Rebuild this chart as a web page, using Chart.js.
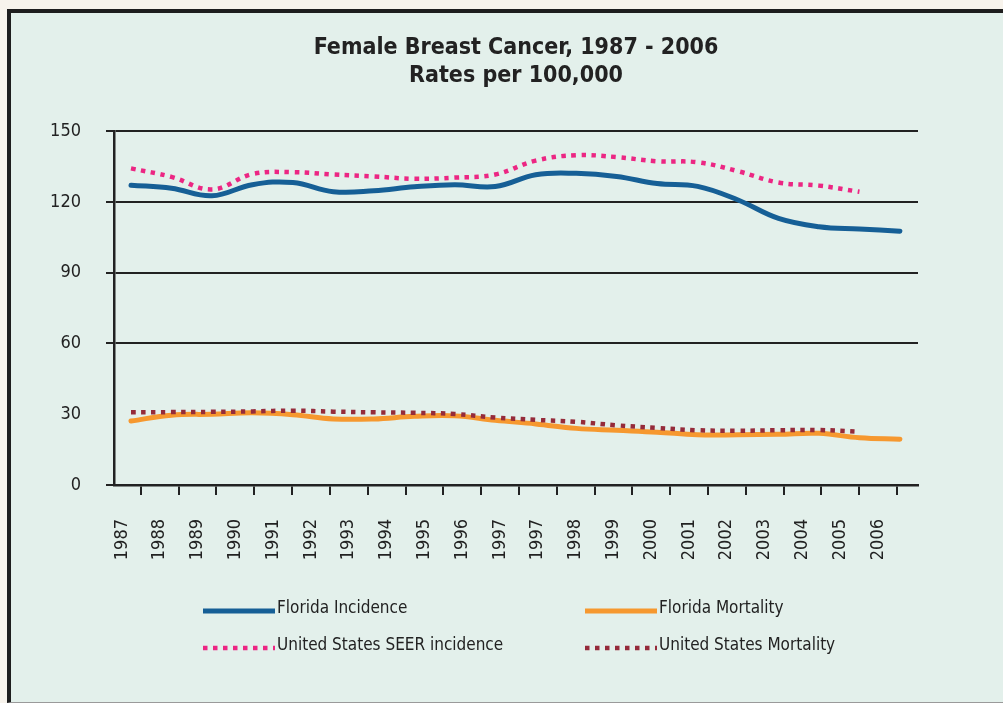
<!DOCTYPE html>
<html>
<head>
<meta charset="utf-8">
<title>Female Breast Cancer, 1987 - 2006</title>
<script src="https://cdn.jsdelivr.net/npm/chart.js@4.4.1/dist/chart.umd.min.js"></script>
<style>
  html, body { margin: 0; padding: 0; background: #f7f3ec; overflow: hidden; }
  .frame {
    position: absolute; left: 7px; top: 9px; right: 0; bottom: 0;
    background: #e3f0eb;
    border-left: 4px solid #1e1e1e;
    border-top: 4px solid #1e1e1e;
    border-bottom: 1px solid #9a9a9a;
  }
  canvas { position: absolute; left: 0; top: 0; }
</style>
</head>
<body>
<div class="frame"></div>
<canvas id="chart" width="1003" height="703"></canvas>
<script>
// data (rates per 100,000)
const years = [1987, 1988, 1989, 1990, 1991, 1992, 1993, 1994, 1995, 1996,
               1997, 1998, 1999, 2000, 2001, 2002, 2003, 2004, 2005, 2006];
const xLabels = ['1987', '1988', '1989', '1990', '1991', '1992', '1993', '1994', '1995', '1996', '1997',
                 '1997', '1998', '1999', '2000', '2001', '2002', '2003', '2004', '2005', '2006'];
const yTicks = [0, 30, 60, 90, 120, 150];

const floridaIncidence = [127.1, 125.8, 122.6, 127.3, 128.2, 124.3, 124.7, 126.4, 127.3, 126.5,
                          131.5, 132.1, 130.8, 127.8, 126.6, 120.8, 113.0, 109.5, 108.5, 107.6];
const floridaMortality = [27.1, 29.6, 30.0, 30.6, 29.8, 28.0, 28.0, 29.1, 29.3, 27.4,
                          25.9, 24.0, 23.2, 22.4, 21.3, 21.3, 21.5, 21.9, 20.0, 19.4];
const seerIncidence = [134.2, 130.6, 125.3, 131.8, 132.6, 131.6, 130.8, 129.8, 130.3, 131.6,
                       137.5, 139.8, 139.0, 137.2, 136.8, 133.0, 128.2, 126.9, 124.3];
const usMortality = [30.8, 30.9, 31.0, 31.2, 31.5, 31.1, 30.8, 30.6, 30.1, 28.6,
                     27.6, 26.8, 25.3, 24.2, 23.2, 23.0, 23.2, 23.3, 22.6];

const FONT = '"Liberation Sans Narrow", "DejaVu Sans Condensed", "Liberation Sans", sans-serif';
Chart.defaults.font.family = FONT;
Chart.defaults.color = '#222';

const pts = (vals) => vals.map((v, i) => ({ x: years[i], y: v }));

// two-column legend under the plot, drawn from the datasets
const legendCols = [203, 585];
const legendRows = [611, 648];
const gridLegend = {
  id: 'gridLegend',
  afterDraw(chart) {
    const ctx = chart.ctx;
    chart.data.datasets.forEach((ds, i) => {
      const x = legendCols[i % 2];
      const y = legendRows[Math.floor(i / 2)];
      ctx.save();
      ctx.strokeStyle = ds.borderColor;
      ctx.lineWidth = ds.borderWidth;
      ctx.lineCap = 'butt';
      ctx.setLineDash(ds.borderDash || []);
      ctx.beginPath();
      ctx.moveTo(x, y);
      ctx.lineTo(x + 72, y);
      ctx.stroke();
      ctx.setLineDash([]);
      ctx.fillStyle = '#222';
      ctx.font = '17px ' + FONT;
      ctx.textBaseline = 'middle';
      ctx.fillText(ds.label, x + 74, y - 2);
      ctx.restore();
    });
  }
};

new Chart(document.getElementById('chart'), {
  type: 'line',
  data: {
    datasets: [
      {
        label: 'Florida Incidence',
        data: pts(floridaIncidence),
        borderColor: '#165f96',
        borderWidth: 5,
        order: 1
      },
      {
        label: 'Florida Mortality',
        data: pts(floridaMortality),
        borderColor: '#f6982f',
        borderWidth: 5,
        order: 1
      },
      {
        label: 'United States SEER incidence',
        data: pts(seerIncidence),
        borderColor: '#ec2683',
        borderWidth: 4.5,
        borderDash: [4.5, 5.5],
        borderCapStyle: 'butt',
        order: 1
      },
      {
        label: 'United States Mortality',
        data: pts(usMortality),
        borderColor: '#952b3a',
        borderWidth: 4.5,
        borderDash: [4.5, 5.5],
        borderCapStyle: 'butt',
        order: 0
      }
    ]
  },
  options: {
    responsive: false,
    animation: false,
    elements: {
      point: { radius: 0 },
      line: { tension: 0.4, borderCapStyle: 'round', fill: false }
    },
    datasets: { line: { xAxisID: 'yr' } },
    layout: { padding: { left: 0, right: 85, top: 0, bottom: 118 } },
    plugins: {
      legend: { display: false },
      tooltip: { enabled: false },
      title: {
        display: true,
        fullSize: false,
        text: ['Female Breast Cancer, 1987 - 2006', 'Rates per 100,000'],
        color: '#222',
        font: { size: 23, weight: 'bold', lineHeight: 1.22 },
        padding: { top: 34, bottom: 41 }
      }
    },
    scales: {
      yr: {
        type: 'linear',
        display: false,
        position: 'bottom',
        min: 1986.58,
        max: 2006.447
      },
      x: {
        type: 'linear',
        position: 'bottom',
        min: -0.2116,
        max: 21.058,
        afterBuildTicks: (s) => { s.ticks = xLabels.map((_, i) => ({ value: i })); },
        afterFit: (s) => { s.height = 100; },
        grid: { offset: true, drawOnChartArea: false, color: '#222', lineWidth: 2, tickLength: 10 },
        border: { color: '#222', width: 2.5 },
        ticks: {
          autoSkip: false,
          minRotation: 90,
          maxRotation: 90,
          padding: 24,
          color: '#222',
          font: { size: 18 },
          callback: (v, i) => xLabels[i]
        }
      },
      y: {
        min: 0,
        max: 150,
        afterBuildTicks: (s) => { s.ticks = yTicks.map((v) => ({ value: v })); },
        afterFit: (s) => { s.width = 114; },
        grid: {
          color: (c) => (c.tick && c.tick.value === 30 ? 'rgba(0,0,0,0)' : '#222'),
          lineWidth: 2,
          tickLength: 8
        },
        border: { color: '#222', width: 2.5 },
        ticks: { color: '#222', font: { size: 18 }, padding: 25 }
      }
    }
  },
  plugins: [gridLegend]
});
</script>
</body>
</html>
